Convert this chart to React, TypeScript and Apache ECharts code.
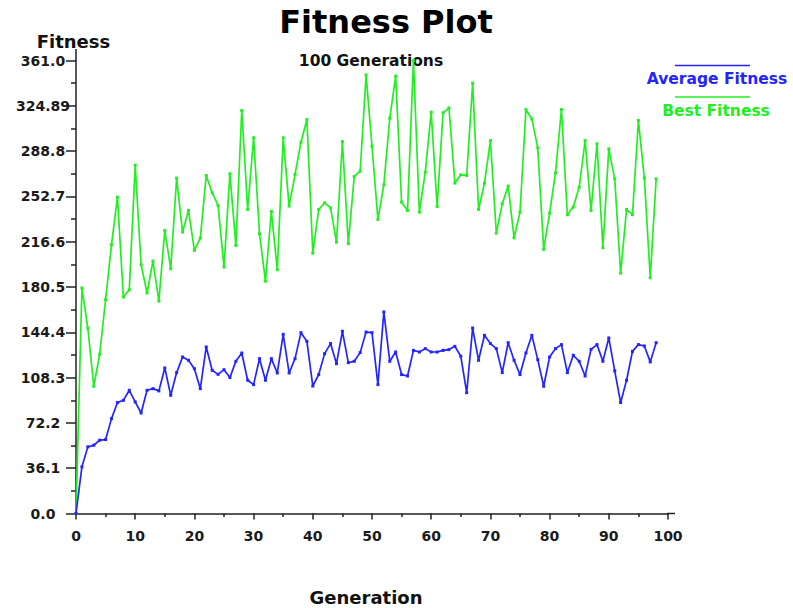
import React, { useEffect, useRef } from "react";
import * as echarts from "echarts";

const avgFitness = [
  0, 37.2, 53.1, 54.4, 58.4, 58.9, 75.6, 88.4, 90.2, 98.2,
  88.9, 80.1, 98.2, 99.5, 97.7, 116.0, 94.2, 112.3, 124.7, 122.1,
  115.4, 99.5, 132.7, 114.1, 110.9, 114.6, 108.3, 121.3, 127.9, 106.2,
  102.7, 123.4, 106.2, 123.4, 112.0, 142.8, 112.0, 123.4, 144.1, 137.2,
  101.6, 110.7, 127.4, 135.4, 119.4, 145.2, 120.2, 121.3, 128.2, 144.6,
  144.1, 102.7, 160.6, 121.3, 128.7, 110.7, 109.6, 130.0, 128.7, 131.4,
  128.7, 128.7, 130.0, 130.6, 133.2, 125.3, 96.3, 147.8, 122.1, 142.0,
  135.4, 131.4, 112.3, 136.1, 122.1, 110.7, 127.9, 142.0, 122.6, 101.4,
  124.7, 131.4, 134.6, 112.3, 126.1, 121.3, 109.6, 130.8, 134.6, 121.3,
  139.9, 113.6, 88.4, 106.2, 129.2, 134.6, 133.5, 120.8, 136.1,
];

const bestFitness = [
  0, 179.7, 147.8, 101.4, 126.9, 170.4, 214.2, 252.1, 172.5, 178.3,
  277.6, 198.2, 175.7, 201.2, 169.3, 225.6, 195.1, 267.3, 224.3, 241.5,
  209.7, 219.5, 269.4, 255.7, 245.5, 196.4, 270.7, 213.6, 321.1, 242.3,
  299.4, 222.9, 185.2, 240.7, 194.3, 299.4, 245.0, 270.2, 295.9, 314.0,
  207.5, 242.3, 247.6, 243.6, 216.3, 296.4, 215.0, 268.6, 272.8, 349.5,
  292.7, 234.3, 261.9, 315.0, 348.5, 248.1, 241.5, 361.0, 240.2, 272.0,
  319.8, 244.7, 319.3, 323.3, 263.3, 269.9, 269.4, 342.9, 242.3, 263.3,
  297.2, 223.5, 246.8, 260.9, 219.7, 240.2, 321.9, 314.5, 291.4, 210.5,
  239.4, 271.5, 321.9, 238.1, 244.2, 260.1, 297.2, 241.5, 294.6, 211.8,
  290.6, 266.7, 191.6, 242.3, 238.1, 313.2, 267.5, 187.9, 266.7,
];

const yTickLabels = [
  "0.0", "36.1", "72.2", "108.3", "144.4", "180.5",
  "216.6", "252.7", "288.8", "324.89", "361.0",
];

const seriesNames = ["Average Fitness", "Best Fitness"];
const titleText = "Fitness Plot";
const subtitleText = "100 Generations";
const xName = "Generation";
const yName = "Fitness";

const BLUE = "#2424ff";
const GREEN = "#22ee22";
const AXIS = "#222222";
const FONT = "'DejaVu Sans', sans-serif";

function txt(text: string, x: number, y: number, size: number, color: string) {
  return {
    type: "text",
    x,
    y,
    silent: true,
    style: {
      text,
      fill: color,
      font: `bold ${size}px ${FONT}`,
      align: "center",
      verticalAlign: "middle",
      textAlign: "center",
      textVerticalAlign: "middle",
    },
  };
}

export default function App() {
  const ref = useRef<HTMLDivElement>(null);

  useEffect(() => {
    if (!ref.current) return;
    const chart = echarts.init(ref.current, undefined, { renderer: "svg" });
    const option: any = {
      animation: false,
      backgroundColor: "#ffffff",
      grid: { left: 76, right: 125, top: 60.5, bottom: 94.5 },
      xAxis: {
        type: "value",
        min: 0,
        max: 100,
        interval: 10,
        axisLine: { show: true, lineStyle: { color: AXIS, width: 1.5 } },
        axisTick: { show: true, length: 6, lineStyle: { color: AXIS, width: 1.5 } },
        minorTick: { show: true, splitNumber: 2, length: 3.5, lineStyle: { color: AXIS, width: 1.5 } },
        axisLabel: {
          color: "#1a1a1a",
          fontFamily: FONT,
          fontWeight: "bold",
          fontSize: 14,
          margin: 15,
        },
        splitLine: { show: false },
      },
      yAxis: {
        type: "value",
        min: 0,
        max: 361,
        interval: 36.1,
        axisLine: { show: true, lineStyle: { color: AXIS, width: 1.5 } },
        axisTick: { show: true, length: 10, lineStyle: { color: AXIS, width: 1.5 } },
        minorTick: { show: true, splitNumber: 2, length: 5, lineStyle: { color: AXIS, width: 1.5 } },
        axisLabel: {
          color: "#1a1a1a",
          fontFamily: FONT,
          fontWeight: "bold",
          fontSize: 14,
          align: "center",
          margin: 33,
          formatter: (v: number) => yTickLabels[Math.round(v / 36.1)] ?? "",
        },
        splitLine: { show: false },
      },
      series: [
        {
          name: seriesNames[0],
          type: "line",
          data: avgFitness.map((v, i) => [i, v]),
          symbol: "rect",
          symbolSize: 3,
          showAllSymbol: true,
          lineStyle: { color: BLUE, width: 1.7 },
          itemStyle: { color: BLUE },
          z: 3,
        },
        {
          name: seriesNames[1],
          type: "line",
          data: bestFitness.map((v, i) => [i, v]),
          symbol: "rect",
          symbolSize: 3,
          showAllSymbol: true,
          lineStyle: { color: GREEN, width: 1.7 },
          itemStyle: { color: GREEN },
          z: 2,
        },
      ],
      graphic: [
        txt(titleText, 386, 22, 32, "#000000"),
        txt(yName, 73.5, 41, 18, "#111111"),
        txt(subtitleText, 371, 61, 15.5, "#111111"),
        txt(seriesNames[0], 717, 79, 15.5, BLUE),
        txt(seriesNames[1], 716, 110.5, 15.5, GREEN),
        txt(xName, 366, 597, 18, "#111111"),
        {
          type: "line",
          silent: true,
          shape: { x1: 675, y1: 65.5, x2: 750, y2: 65.5 },
          style: { stroke: BLUE, lineWidth: 1.5 },
        },
        {
          type: "line",
          silent: true,
          shape: { x1: 675, y1: 97, x2: 750, y2: 97 },
          style: { stroke: GREEN, lineWidth: 1.5 },
        },
        {
          type: "line",
          silent: true,
          shape: { x1: 76, y1: 49, x2: 76, y2: 61 },
          style: { stroke: AXIS, lineWidth: 1.5 },
        },
        {
          type: "line",
          silent: true,
          shape: { x1: 667, y1: 513.5, x2: 675, y2: 513.5 },
          style: { stroke: AXIS, lineWidth: 1.5 },
        },
      ],
    };
    chart.setOption(option);
    return () => chart.dispose();
  }, []);

  return (
    <div
      ref={ref}
      style={{ position: "fixed", left: 0, top: 0, width: 793, height: 608 }}
    />
  );
}
